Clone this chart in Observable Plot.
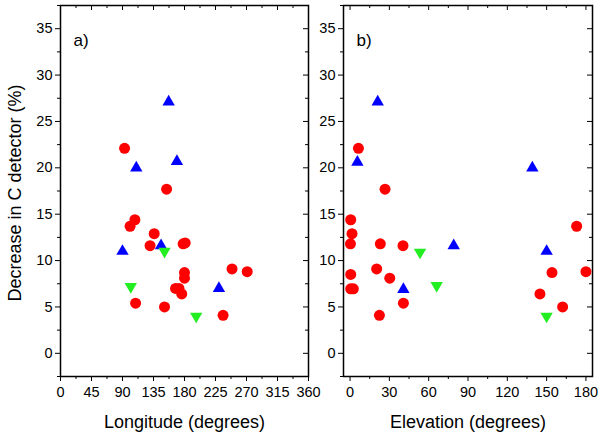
<!DOCTYPE html>
<html>
<head>
<meta charset="utf-8">
<script src="https://cdn.jsdelivr.net/npm/d3@7"></script>
<script src="https://cdn.jsdelivr.net/npm/@observablehq/plot@0.6"></script>
<style>
  body { margin: 0; background: #fff; }
  #chart { display: flex; width: 600px; height: 439px; }
  #chart svg { overflow: visible; }
  #chart svg:first-child { position: relative; z-index: 1; }
</style>
</head>
<body>
<div id="chart"></div>
<script>
// panel a) longitude
var redLon = [93, 154, 108, 101, 136, 130, 178, 181, 249, 271, 180, 180, 167, 172, 176, 109, 151, 236]
var redLonVal = [22.1, 17.7, 14.4, 13.7, 12.9, 11.6, 11.8, 11.9, 9.1, 8.8, 8.7, 8.1, 7.0, 7.0, 6.4, 5.4, 5.0, 4.1]
var blueLon = [157, 110, 169, 146, 90, 230]
var blueLonVal = [27.1, 20.0, 20.7, 11.6, 11.0, 7.0]
var greenLon = [151, 102, 197]
var greenLonVal = [11.0, 7.2, 4.0]

// panel b) elevation
var redEl = [6.4, 26.7, 0.5, 1.5, 0.3, 23.1, 40.4, 172.9, 0.5, 0.5, 2.5, 20.3, 30.3, 40.7, 22.4, 144.9, 154.1, 180, 162.2]
var redElVal = [22.1, 17.7, 14.4, 12.9, 11.8, 11.8, 11.6, 13.7, 8.5, 6.95, 6.95, 9.1, 8.1, 5.4, 4.1, 6.4, 8.7, 8.8, 5.0]
var blueEl = [21.1, 5.6, 79.1, 139.1, 150, 40.7]
var blueElVal = [27.1, 20.6, 11.6, 20.0, 11.0, 6.9]
var greenEl = [53.4, 66.1, 150]
var greenElVal = [10.9, 7.3, 4.0]

// ticks
var lonTicks = [0, 45, 90, 135, 180, 225, 270, 315, 360]
var lonMinor = [22.5, 67.5, 112.5, 157.5, 202.5, 247.5, 292.5, 337.5]
var elTicks = [0, 30, 60, 90, 120, 150, 180]
var elMinor = [15, 45, 75, 105, 135, 165]
var yTicks = [0, 5, 10, 15, 20, 25, 30, 35]
var yMinor = [-2.5, 2.5, 7.5, 12.5, 17.5, 22.5, 27.5, 32.5, 37.5]

var RED = "#ff0000", BLUE = "#0000ff", GREEN = "#22ee22"
var H = 439, mTop = 5, mBottom = 63
var frameH = H - mTop - mBottom

function pts(xs, ys) {
  return xs.map((x, i) => ({x: x, y: ys[i]}))
}

function panel(opts) {
  var frameW = opts.width - opts.marginLeft - opts.marginRight
  var marks = [
    Plot.frame({stroke: "black", strokeWidth: 1.5}),
    // outward ticks bottom / left
    Plot.axisX(opts.xTicks, {tickSize: 5, fontSize: 14.5, tickPadding: 5, label: null}),
    Plot.axisX(opts.xMinor, {tickSize: 3, tickFormat: () => "", label: null}),
    Plot.axisY(yTicks, {tickSize: 5, fontSize: 14.5, tickPadding: 3, label: null}),
    Plot.axisY(yMinor, {tickSize: 3, tickFormat: () => "", label: null}),
    // inward ticks top / right
    Plot.tickX(opts.xTicks, {x: d => d, insetBottom: frameH - 5}),
    Plot.tickX(opts.xMinor, {x: d => d, insetBottom: frameH - 3}),
    Plot.tickY(yTicks, {y: d => d, insetLeft: frameW - 5}),
    Plot.tickY(yMinor, {y: d => d, insetLeft: frameW - 3}),
    Plot.dot(pts(opts.red, opts.redVal), {x: "x", y: "y", r: 5.5, fill: RED, symbol: "circle"}),
    Plot.dot(pts(opts.blue, opts.blueVal), {x: "x", y: "y", r: 4.6, fill: BLUE, symbol: "triangle"}),
    Plot.dot(pts(opts.green, opts.greenVal), {x: "x", y: "y", r: 4.6, fill: GREEN, symbol: "triangle", rotate: 180}),
    Plot.text([opts.tag], {frameAnchor: "top-left", dx: 13, dy: 28, fontSize: 17, textAnchor: "start"}),
    Plot.text([opts.xLabel], {frameAnchor: "bottom", dy: 51, fontSize: 18, textAnchor: "middle"})
  ]
  if (opts.yLabel) {
    marks.push(Plot.text([opts.yLabel], {frameAnchor: "left", dx: -45, dy: 2, rotate: -90, fontSize: 18, textAnchor: "middle"}))
  }
  return Plot.plot({
    width: opts.width,
    height: H,
    marginLeft: opts.marginLeft,
    marginRight: opts.marginRight,
    marginTop: mTop,
    marginBottom: mBottom,
    x: {domain: opts.xDomain, label: null},
    y: {domain: [-2.5, 37.5], label: null},
    style: {fontFamily: "'Liberation Sans', Arial, sans-serif", fontSize: 14, color: "black", background: "transparent", overflow: "visible"},
    marks: marks
  })
}

var chartA = panel({
  width: 310, marginLeft: 60, marginRight: 2,
  xDomain: [0, 360], xTicks: lonTicks, xMinor: lonMinor,
  red: redLon, redVal: redLonVal, blue: blueLon, blueVal: blueLonVal, green: greenLon, greenVal: greenLonVal,
  tag: "a)", xLabel: "Longitude (degrees)", yLabel: "Decrease in C detector (%)"
})
var chartB = panel({
  width: 290, marginLeft: 33, marginRight: 8,
  xDomain: [-5, 185], xTicks: elTicks, xMinor: elMinor,
  red: redEl, redVal: redElVal, blue: blueEl, blueVal: blueElVal, green: greenEl, greenVal: greenElVal,
  tag: "b)", xLabel: "Elevation (degrees)"
})

d3.select('#chart').append(() => chartA)
d3.select('#chart').append(() => chartB)
</script>
</body>
</html>
